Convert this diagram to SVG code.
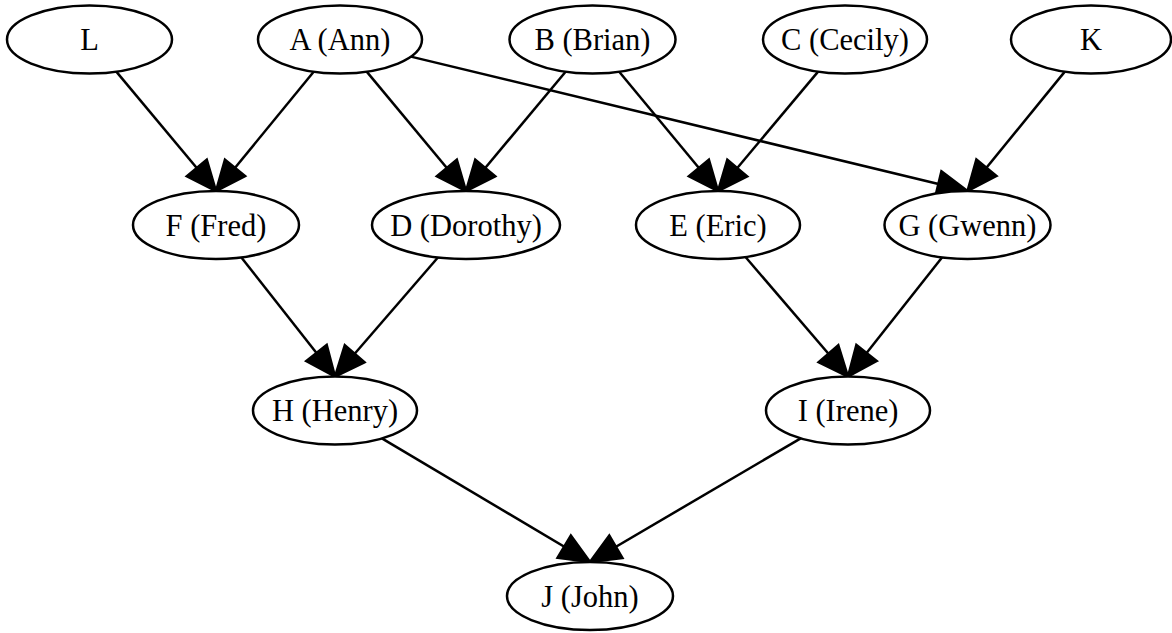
<svg xmlns="http://www.w3.org/2000/svg" width="1172" height="633" viewBox="0 0 1172 633">
  <style>
    .node ellipse { fill: #ffffff; stroke: #000000; stroke-width: 2.5; }
    .node text { font-family: "Liberation Serif", "Times New Roman", serif; font-size: 30.5px; fill: #000000; text-anchor: middle; }
    .edge { stroke: #000000; stroke-width: 2.5; fill: none; marker-end: url(#arrow); }
  </style>
  <defs>
    <marker id="arrow" markerUnits="userSpaceOnUse" viewBox="-3 -17 36 34" markerWidth="36" markerHeight="34" refX="30" refY="0" orient="auto">
      <path d="M0,-13 L30,0 L0,13 Z" fill="#000000" stroke="#000000" stroke-width="2.5" stroke-linejoin="miter"/>
    </marker>
  </defs>
  <rect width="1172" height="633" fill="#ffffff"/>

  <!-- connectors: each runs from the parent's outline to the top of the child -->
  <g id="edges">
    <line class="edge" x1="116.3" y1="71.6" x2="216" y2="191"/>
    <line class="edge" x1="313.7" y1="71.7" x2="216" y2="191"/>
    <line class="edge" x1="366.7" y1="71.6" x2="466" y2="191"/>
    <line class="edge" x1="410.9" y1="56.6" x2="967.5" y2="191"/>
    <line class="edge" x1="565.6" y1="71.7" x2="466" y2="191"/>
    <line class="edge" x1="619.2" y1="71.7" x2="718" y2="191"/>
    <line class="edge" x1="818.1" y1="71.6" x2="718" y2="191"/>
    <line class="edge" x1="1064.8" y1="71.6" x2="967.5" y2="191"/>
    <line class="edge" x1="241.4" y1="257.4" x2="335" y2="376.5"/>
    <line class="edge" x1="437.9" y1="257.5" x2="335" y2="376.5"/>
    <line class="edge" x1="745.5" y1="257.0" x2="848" y2="376.5"/>
    <line class="edge" x1="942.0" y1="257.4" x2="848" y2="376.5"/>
    <line class="edge" x1="381.9" y1="438.4" x2="590" y2="562"/>
    <line class="edge" x1="800.7" y1="438.3" x2="590" y2="562"/>
  </g>

  <!-- top row -->
  <g id="node-L" class="node"><ellipse cx="89.5" cy="39.5" rx="82.5" ry="34"/><text x="89.5" y="50">L</text></g>
  <g id="node-A" class="node"><ellipse cx="340" cy="39.5" rx="82" ry="34"/><text x="340" y="50">A (Ann)</text></g>
  <g id="node-B" class="node"><ellipse cx="592.5" cy="39.5" rx="83" ry="34"/><text x="592.5" y="50">B (Brian)</text></g>
  <g id="node-C" class="node"><ellipse cx="845" cy="39.5" rx="82" ry="34"/><text x="845" y="50">C (Cecily)</text></g>
  <g id="node-K" class="node"><ellipse cx="1091" cy="39.5" rx="80" ry="34"/><text x="1091" y="50">K</text></g>

  <!-- second row -->
  <g id="node-F" class="node"><ellipse cx="216" cy="225" rx="83" ry="34"/><text x="216" y="235.5">F (Fred)</text></g>
  <g id="node-D" class="node"><ellipse cx="466" cy="225" rx="94" ry="34"/><text x="466" y="235.5">D (Dorothy)</text></g>
  <g id="node-E" class="node"><ellipse cx="718" cy="225" rx="82" ry="34"/><text x="718" y="235.5">E (Eric)</text></g>
  <g id="node-G" class="node"><ellipse cx="967.5" cy="225" rx="83" ry="34"/><text x="967.5" y="235.5">G (Gwenn)</text></g>

  <!-- third row -->
  <g id="node-H" class="node"><ellipse cx="335" cy="410.5" rx="82" ry="34"/><text x="335" y="421">H (Henry)</text></g>
  <g id="node-I" class="node"><ellipse cx="848" cy="410.5" rx="82" ry="34"/><text x="848" y="421">I (Irene)</text></g>

  <!-- bottom row -->
  <g id="node-J" class="node"><ellipse cx="590" cy="596" rx="83" ry="34"/><text x="590" y="606.5">J (John)</text></g>
</svg>
